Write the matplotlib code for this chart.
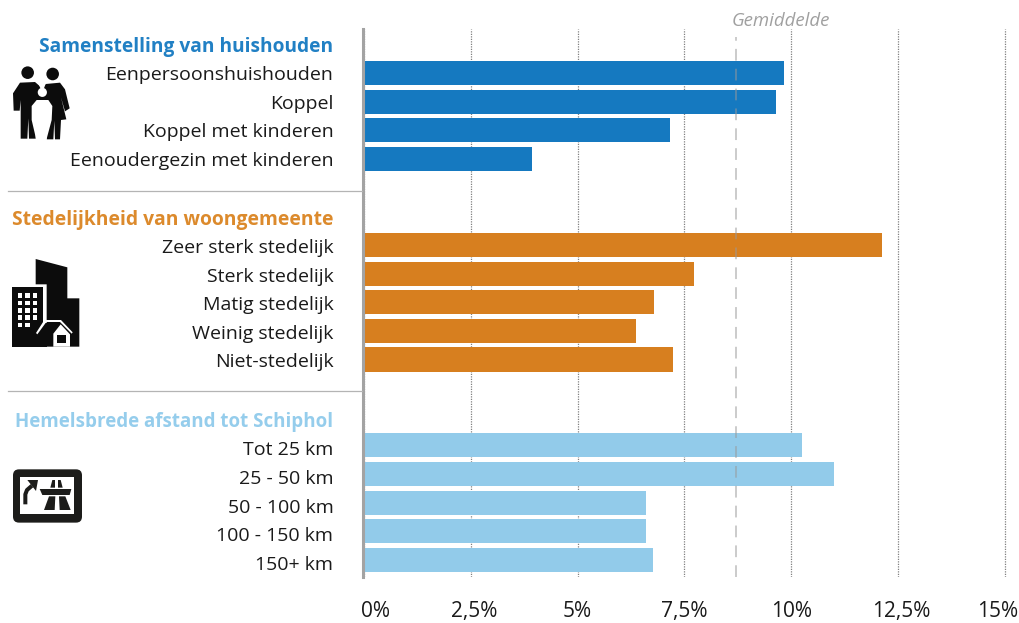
import matplotlib
matplotlib.use("Agg")
from matplotlib import pyplot as plt
from matplotlib.patches import Polygon, Circle, FancyBboxPatch
from matplotlib.transforms import ScaledTranslation

# values (percent)
households = ["Eenpersoonshuishouden", "Koppel", "Koppel met kinderen", "Eenoudergezin met kinderen"]
householdValues = [9.83, 9.65, 7.17, 3.93]
urban = ["Zeer sterk stedelijk", "Sterk stedelijk", "Matig stedelijk", "Weinig stedelijk", "Niet-stedelijk"]
urbanValues = [12.13, 7.73, 6.79, 6.37, 7.24]
distance = ["Tot 25 km", "25 - 50 km", "50 - 100 km", "100 - 150 km", "150+ km"]
distanceValues = [10.26, 11.0, 6.6, 6.6, 6.77]
average = 8.7
xticks = [0, 2.5, 5, 7.5, 10, 12.5, 15]
xtickLabels = ["0%", "2,5%", "5%", "7,5%", "10%", "12,5%", "15%"]

groups = [
    ("Samenstelling van huishouden", households, householdValues, "#1579c0", "#2180c4", 13.8),
    ("Stedelijkheid van woongemeente", urban, urbanValues, "#d77f1f", "#dc8a2c", 13.9),
    ("Hemelsbrede afstand tot Schiphol", distance, distanceValues, "#92cbea", "#95cdec", 13.5),
]
groupStart = [0, 6, 13]
labelShift = [0, 1, 3]  # labels sit a bit lower than the bars further down

plt.rcParams["font.family"] = ["Open Sans", "DejaVu Sans"]

W, H = 1020, 623
fig = plt.figure(figsize=(W / 100, H / 100), dpi=100)

top, bottom, left = 29, 577, 364
pxPerUnit = 42.73
xmax = 15.1
right = left + xmax * pxPerUnit
ax = fig.add_axes([left / W, 1 - bottom / H, (right - left) / W, (bottom - top) / H])

# spine position first, it resets the ticks
for s in ["top", "right", "bottom"]:
    ax.spines[s].set_visible(False)
ax.spines["left"].set_color("#a3a3a3")
ax.spines["left"].set_linewidth(2.2)
ax.spines["left"].set_position(("outward", 1))

rowStep = 28.65
ax.set_xlim(0, xmax)
ax.set_ylim((bottom - 73) / rowStep, (top - 73) / rowStep)

ticks, labels, colors, sizes, shifts = [], [], [], [], []
for (title, names, vals, color, titleColor, titleSize), start, sh in zip(groups, groupStart, labelShift):
    rows = [start + i for i in range(len(names))]
    ax.barh(rows, vals, height=0.84, color=color, zorder=2)
    ticks += [start - 1] + rows
    labels += [title] + names
    colors += [titleColor] + ["#1a1a1a"] * len(names)
    sizes += [titleSize] + [None] * len(names)
    shifts += [sh] * (len(names) + 1)

ax.set_yticks(ticks, labels, fontsize=14)
ax.tick_params(axis="y", length=0, pad=21)
for lab, c, size, sh in zip(ax.get_yticklabels(), colors, sizes, shifts):
    lab.set_color(c)
    if size is not None:
        lab.set_fontweight("bold")
        lab.set_fontsize(size)
    lab.set_transform(lab.get_transform() + ScaledTranslation(0, -sh / 100, fig.dpi_scale_trans))

ax.set_xticks(xticks, xtickLabels, fontsize=15, color="#1a1a1a")
ax.tick_params(axis="x", length=0, pad=17)
xlabs = ax.get_xticklabels()
xlabs[0].set_ha("left")
xlabs[0].set_transform(xlabs[0].get_transform() + ScaledTranslation(-0.03, 0, fig.dpi_scale_trans))
xlabs[-1].set_ha("right")
xlabs[-1].set_transform(xlabs[-1].get_transform() + ScaledTranslation(0.13, 0, fig.dpi_scale_trans))
for lab in xlabs[1::4]:
    lab.set_transform(lab.get_transform() + ScaledTranslation(0.035, 0, fig.dpi_scale_trans))

ax.grid(axis="x", linestyle=(0, (1, 1)), color="#808080", linewidth=0.9, zorder=1)
ax.set_axisbelow(True)

ax.plot([average, average], [ax.get_ylim()[0], -1.25], color="#999999", alpha=0.55, linewidth=1.3,
        linestyle=(0, (6.5, 4.5)), zorder=3)

# overlay in pixel coordinates for separators, label and icons
ov = fig.add_axes([0, 0, 1, 1])
ov.set_xlim(0, W)
ov.set_ylim(H, 0)
ov.axis("off")
ov.patch.set_alpha(0)

for y in [190.5, 390.5]:
    ov.plot([8, 362], [y, y], color="#b4b4b4", linewidth=0.9)

ov.text(781, 21, "Gemiddelde", color="#a0a0a0", fontsize=13.4, style="italic", ha="center", va="center")

k = "#0c0c0c"
nav = "#1c1c1a"


def poly(pts, ox, oy, color):
    # points come from 3x zoom crops of the icons
    ov.add_patch(Polygon([(ox + x / 3, oy + y / 3) for x, y in pts], facecolor=color, linewidth=0))


# family icon
ox, oy = 5, 60
ov.add_patch(Circle((ox + 68 / 3, oy + 38 / 3), 6.3, facecolor=k, linewidth=0))
ov.add_patch(Circle((ox + 143 / 3, oy + 42 / 3), 6.3, facecolor=k, linewidth=0))
poly([(45, 68), (90, 66), (112, 85), (112, 140), (92, 180), (92, 236), (72, 236), (70, 175), (67, 236), (47, 236),
      (47, 120), (44, 152), (26, 152), (24, 100)], ox, oy, k)
poly([(122, 72), (165, 68), (180, 88), (194, 145), (180, 154), (168, 112), (184, 178), (168, 180), (165, 238),
      (150, 238), (148, 182), (145, 238), (125, 238), (125, 180), (110, 140), (110, 85)], ox, oy, k)
poly([(98, 66), (124, 66), (112, 98)], ox, oy, "white")
ov.add_patch(Circle((ox + 112 / 3, oy + 97 / 3), 4.6, facecolor="white", linewidth=0))
poly([(95, 120), (130, 120), (142, 138), (140, 180), (124, 240), (94, 240), (80, 180), (80, 138)], ox, oy, "white")

# building icon
ox, oy = 5, 255
poly([(92, 12), (187, 37), (187, 130), (223, 130), (223, 275), (125, 275), (125, 88), (92, 88)], ox, oy, k)
poly([(20, 97), (115, 97), (115, 205), (125, 205), (125, 275), (20, 275)], ox, oy, k)
for r in range(5):
    for c in range(3):
        if r == 4 and c == 2:
            continue
        x0, y0 = 38 + 22.5 * c, 115 + 22 * r
        poly([(x0, y0), (x0 + 14, y0), (x0 + 14, y0 + 14), (x0, y0 + 14)], ox, oy, "white")
poly([(118, 195), (168, 195), (203, 232), (200, 236), (165, 201), (124, 201), (97, 238), (93, 234)], ox, oy, "white")
poly([(145, 275), (145, 236), (167, 208), (195, 238), (195, 275)], ox, oy, "white")
poly([(155, 240), (183, 240), (183, 263), (155, 263)], ox, oy, k)

# navigation icon
ox, oy = 8, 465
ov.add_patch(FancyBboxPatch((ox + 15 / 3 + 6, oy + 13 / 3 + 6), 69 - 12, 53.3 - 12, boxstyle="round,pad=6,rounding_size=6",
                            facecolor=nav, linewidth=0))
poly([(37, 37), (197, 37), (197, 148), (37, 148)], ox, oy, "white")
ov.plot([ox + 52 / 3, ox + 52 / 3, ox + 57 / 3, ox + 72 / 3], [oy + 118 / 3, oy + 88 / 3, oy + 75 / 3, oy + 62 / 3],
        color=nav, linewidth=2.9, solid_capstyle="butt")
poly([(58, 45), (90, 45), (84, 78)], ox, oy, nav)
poly([(95, 72), (190, 72), (185, 90), (103, 90)], ox, oy, nav)
poly([(127, 68), (133, 45), (141, 45), (141, 68)], ox, oy, nav)
poly([(150, 45), (158, 45), (164, 68), (150, 68)], ox, oy, nav)
poly([(123, 94), (142, 94), (140, 135), (108, 135)], ox, oy, nav)
poly([(153, 94), (172, 94), (188, 135), (155, 135)], ox, oy, nav)

fig.savefig("out.png", dpi=100)
